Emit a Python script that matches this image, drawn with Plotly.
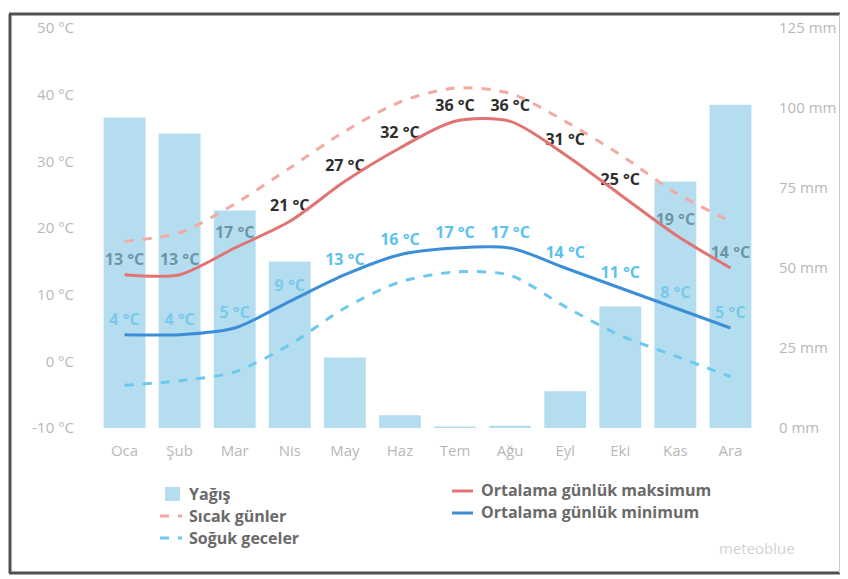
import plotly.graph_objects as go

months = ["Oca", "Şub", "Mar", "Nis", "May", "Haz", "Tem", "Ağu", "Eyl", "Eki", "Kas", "Ara"]
precip_mm = [97, 92, 68, 52, 22, 4, 0.5, 0.7, 11.5, 38, 77, 101]
mean_max = [13, 13, 17, 21, 27, 32, 36, 36, 31, 25, 19, 14]
mean_min = [4, 4, 5, 9, 13, 16, 17, 17, 14, 11, 8, 5]
hot_days = [18, 19.3, 23.6, 29, 34.5, 38.9, 41, 40.2, 36, 31, 25.3, 21]
cold_nights = [-3.6, -2.9, -1.6, 2.5, 8, 11.9, 13.4, 12.9, 8.2, 3.9, 0.8, -2.3]

temp_ticks = [-10, 0, 10, 20, 30, 40, 50]
temp_tick_text = ["-10 °C", "0 °C", "10 °C", "20 °C", "30 °C", "40 °C", "50 °C"]
mm_ticks = [0, 25, 50, 75, 100, 125]
mm_tick_text = ["0 mm", "25 mm", "50 mm", "75 mm", "100 mm", "125 mm"]

legend_left = ["Yağış", "Sıcak günler", "Soğuk geceler"]
legend_right = ["Ortalama günlük maksimum", "Ortalama günlük minimum"]

BAR_COLOR = "rgba(140,205,230,0.65)"
MAX_COLOR = "#e27373"
MIN_COLOR = "#3c8fd6"
HOT_COLOR = "#f2aaa2"
COLD_COLOR = "#6cc8ef"
MAXLBL_COLOR = "#2e2e2e"
MINLBL_COLOR = "#5cc2f0"

# page body has an 8px margin: target screen coords are shifted by OFF
OFF = 8
SW, SH = 848, 579
W, H = SW - OFF, SH - OFF
# plot area in screen coords
PL, PR, PT, PB = 97, 758, 28, 428
L, R, T, B = PL - OFF, SW - PR, PT - OFF, SH - PB
PW = PR - PL
PH = PB - PT


def px(xs):
    return (xs - PL) / PW


def py(ys):
    return (PB - ys) / PH


fig = go.Figure()

# labels (drawn first, beneath bars)
fig.add_trace(go.Scatter(
    x=months, y=mean_max, mode="markers+text",
    marker=dict(size=8, opacity=0),
    text=[f"{v} °C" for v in mean_max], textposition="top center",
    textfont=dict(family="Open Sans", size=16, color=MAXLBL_COLOR, weight=700),
    showlegend=False, hoverinfo="skip", xaxis="x", yaxis="y", cliponaxis=False))
fig.add_trace(go.Scatter(
    x=months, y=mean_min, mode="markers+text",
    marker=dict(size=8, opacity=0),
    text=[f"{v} °C" for v in mean_min], textposition="top center",
    textfont=dict(family="Open Sans", size=16, color=MINLBL_COLOR, weight=700),
    showlegend=False, hoverinfo="skip", xaxis="x", yaxis="y", cliponaxis=False))

# precipitation bars
fig.add_trace(go.Bar(
    x=months, y=precip_mm, marker=dict(color=BAR_COLOR, line=dict(width=0)),
    name="Yağış", showlegend=False, yaxis="y2"))

# temperature lines
fig.add_trace(go.Scatter(
    x=months, y=hot_days, mode="lines", line=dict(color=HOT_COLOR, width=3, dash="dash", shape="spline", smoothing=0.8),
    showlegend=False, yaxis="y3"))
fig.add_trace(go.Scatter(
    x=months, y=cold_nights, mode="lines", line=dict(color=COLD_COLOR, width=3, dash="dash", shape="spline", smoothing=0.8),
    showlegend=False, yaxis="y3"))
fig.add_trace(go.Scatter(
    x=months, y=mean_max, mode="lines", line=dict(color=MAX_COLOR, width=3, shape="spline", smoothing=0.8),
    showlegend=False, yaxis="y3"))
fig.add_trace(go.Scatter(
    x=months, y=mean_min, mode="lines", line=dict(color=MIN_COLOR, width=3, shape="spline", smoothing=0.8),
    showlegend=False, yaxis="y3"))

tick_font = dict(family="Open Sans", size=15, color="#b8b8b8")

fig.update_layout(
    width=W, height=H,
    margin=dict(l=L, r=R, t=T, b=B, pad=0, autoexpand=False),
    paper_bgcolor="white", plot_bgcolor="white",
    bargap=0.24,
    showlegend=False,
    xaxis=dict(range=[-0.5, 11.5], showgrid=False, zeroline=False, showline=False, ticks="",
               tickfont=tick_font, ticklabelstandoff=12, fixedrange=True),
    yaxis=dict(range=[-10, 50], tickvals=temp_ticks, ticktext=temp_tick_text,
               showgrid=False, zeroline=False, showline=False, ticks="",
               tickfont=tick_font, ticklabelstandoff=22),
    yaxis2=dict(range=[0, 125], tickvals=mm_ticks, ticktext=mm_tick_text,
                overlaying="y", side="right",
                showgrid=False, zeroline=False, showline=False, ticks="",
                tickfont=tick_font, ticklabelstandoff=20),
    yaxis3=dict(range=[-10, 50], overlaying="y", visible=False),
)

shapes = []
annotations = []
leg_font = dict(family="Open Sans", size=16, color="#6a6a6a", weight=700)

# left legend column
left_y = [494, 516, 538]
shapes.append(dict(type="rect", xref="paper", yref="paper",
                   x0=px(165), x1=px(180), y0=py(501), y1=py(487),
                   fillcolor=BAR_COLOR, line=dict(width=0)))
shapes.append(dict(type="line", xref="paper", yref="paper",
                   x0=px(160), x1=px(182), y0=py(left_y[1]), y1=py(left_y[1]),
                   line=dict(color=HOT_COLOR, width=3, dash="dash")))
shapes.append(dict(type="line", xref="paper", yref="paper",
                   x0=px(160), x1=px(182), y0=py(left_y[2]), y1=py(left_y[2]),
                   line=dict(color=COLD_COLOR, width=3, dash="dash")))
for name, yy in zip(legend_left, left_y):
    annotations.append(dict(text=name, xref="paper", yref="paper", x=px(187), y=py(yy),
                            xanchor="left", yanchor="middle", showarrow=False, font=leg_font))

right_y = [490, 512]
for color, yy in zip([MAX_COLOR, MIN_COLOR], right_y):
    shapes.append(dict(type="line", xref="paper", yref="paper",
                       x0=px(452), x1=px(473), y0=py(yy + 1), y1=py(yy + 1),
                       line=dict(color=color, width=3)))
for name, yy in zip(legend_right, right_y):
    annotations.append(dict(text=name, xref="paper", yref="paper", x=px(479), y=py(yy),
                            xanchor="left", yanchor="middle", showarrow=False, font=leg_font))

annotations.append(dict(text="meteoblue", xref="paper", yref="paper", x=px(757), y=py(548),
                        xanchor="center", yanchor="middle", showarrow=False,
                        font=dict(family="Open Sans", size=15, color="#d2d2d2")))

# border frame
frame = "#505050"
shapes.append(dict(type="line", xref="paper", yref="paper", x0=px(9), x1=px(842), y0=py(14), y1=py(14),
                   line=dict(color=frame, width=3)))
shapes.append(dict(type="line", xref="paper", yref="paper", x0=px(10), x1=px(10), y0=py(14), y1=py(573),
                   line=dict(color=frame, width=3)))
shapes.append(dict(type="line", xref="paper", yref="paper", x0=px(9), x1=px(842), y0=py(573), y1=py(573),
                   line=dict(color=frame, width=3)))
shapes.append(dict(type="line", xref="paper", yref="paper", x0=px(840), x1=px(840), y0=py(14), y1=py(573),
                   line=dict(color="#c8c8c8", width=2)))

fig.update_layout(shapes=shapes, annotations=annotations)

fig.write_html("out.html")
